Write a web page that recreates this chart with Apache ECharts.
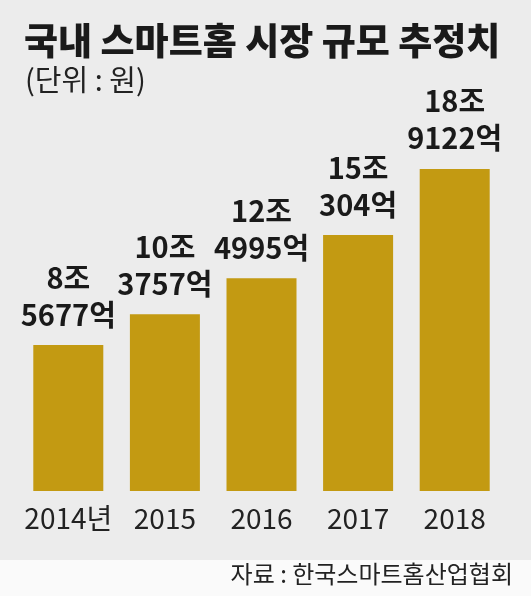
<!DOCTYPE html>
<html>
<head>
<meta charset="utf-8">
<script src="https://cdn.jsdelivr.net/npm/echarts@6/dist/echarts.min.js"></script>
<style>
  html, body { margin: 0; padding: 0; background: #fafafa; }
  #chart { width: 531px; height: 596px; }
</style>
</head>
<body>
<div id="chart"></div>
<script>
// 국내 스마트홈 시장 규모 (단위: 억원)
var years = ['2014년', '2015', '2016', '2017', '2018'];
var marketSize = [85677, 103757, 124995, 150304, 189122];

var barColor = '#c39a12';
var textFont = '"Noto Sans CJK KR", sans-serif';

// 8조\n5677억 식으로 표시
function toJo(v) {
    var jo = Math.floor(v / 10000);
    var eok = v % 10000;
    return jo + '조\n' + eok + '억';
}

var myChart = echarts.init(document.getElementById('chart'));
var option = {
    backgroundColor: '#fafafa',
    animation: false,
    graphic: [
        {
            type: 'rect',
            z: -10,
            shape: { x: 0, y: 0, width: 531, height: 560 },
            style: { fill: '#ececec' }
        }
    ],
    title: [
        {
            text: '국내 스마트홈 시장 규모 추정치',
            left: 19,
            top: 17,
            textStyle: {
                fontFamily: textFont,
                fontWeight: 900,
                fontSize: 37,
                color: '#1a1a1a'
            }
        },
        {
            text: '(단위 : 원)',
            left: 20,
            top: 60,
            textStyle: {
                fontFamily: textFont,
                fontWeight: 'normal',
                fontSize: 29,
                color: '#222'
            }
        },
        {
            text: '자료 : 한국스마트홈산업협회',
            right: 13,
            bottom: 5,
            textStyle: {
                fontFamily: textFont,
                fontWeight: 'normal',
                fontSize: 24,
                color: '#222'
            }
        }
    ],
    grid: {
        left: 20,
        right: 28,
        top: 150.4,
        bottom: 105
    },
    xAxis: {
        type: 'category',
        data: years,
        axisLine: { show: false },
        axisTick: { show: false },
        axisLabel: {
            interval: 0,
            margin: 13,
            fontFamily: textFont,
            fontSize: 28,
            color: '#222'
        }
    },
    yAxis: {
        type: 'value',
        min: 0,
        max: 200000,
        show: false,
        splitLine: { show: false }
    },
    series: [
        {
            type: 'bar',
            data: marketSize,
            barWidth: 70,
            itemStyle: { color: barColor },
            label: {
                show: true,
                position: 'top',
                distance: 12,
                formatter: function (p) { return toJo(p.value); },
                fontFamily: textFont,
                fontWeight: 'bold',
                fontSize: 29,
                lineHeight: 37,
                color: '#1a1a1a'
            }
        }
    ]
};
myChart.setOption(option);
</script>
</body>
</html>
